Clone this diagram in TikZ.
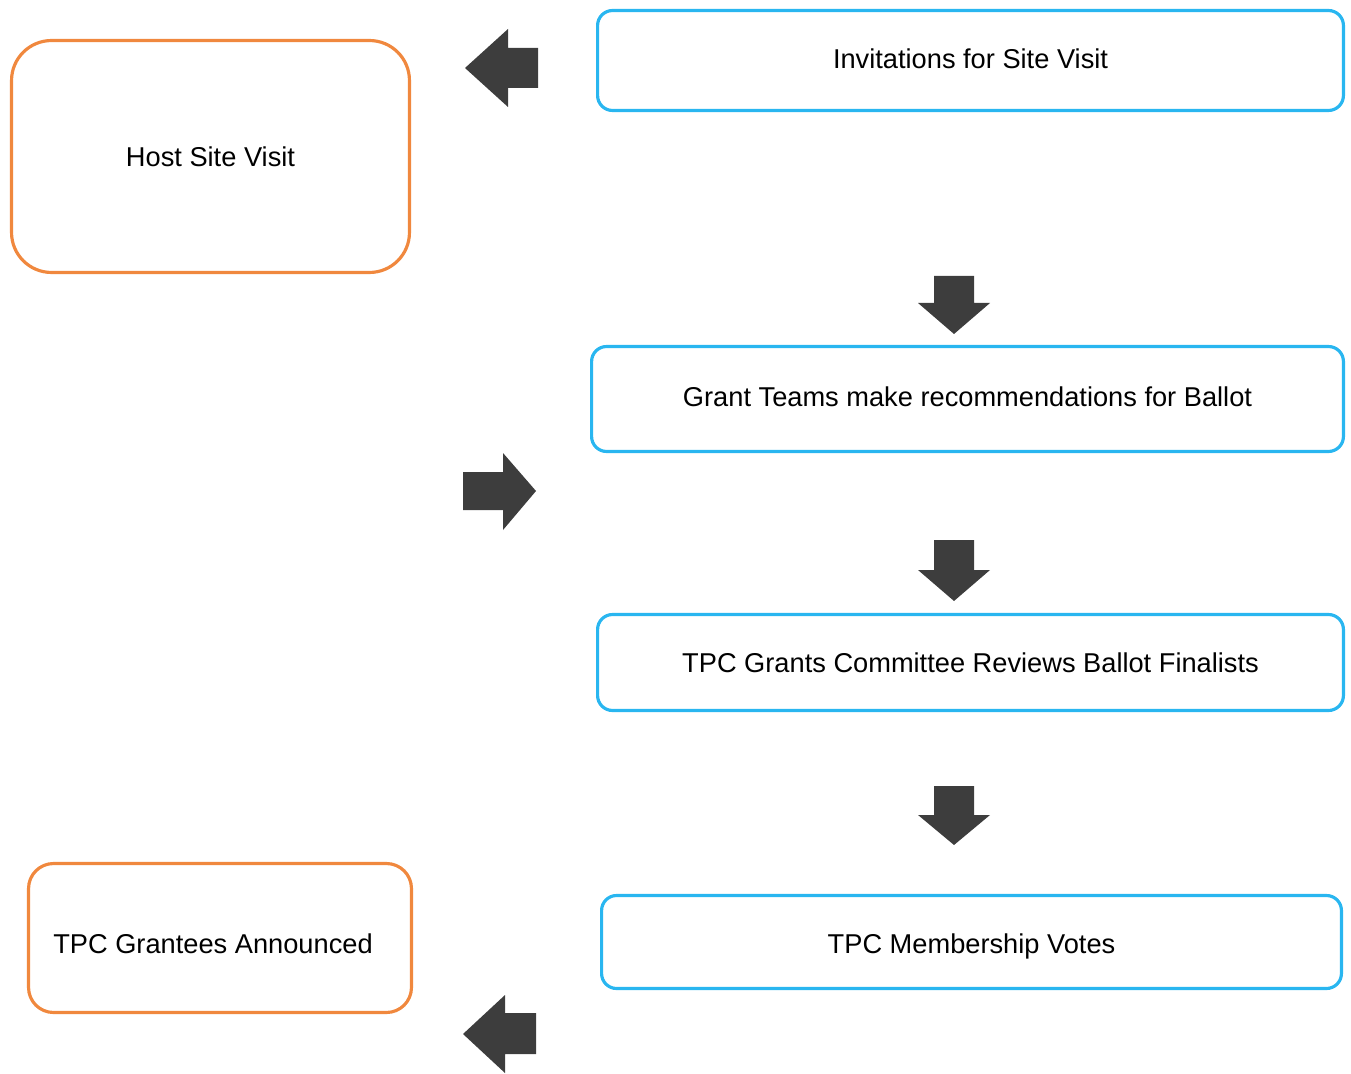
\documentclass[tikz,border=0pt]{standalone}
\usepackage{fontspec}
\setmainfont{Liberation Sans}
\usetikzlibrary{positioning}

\definecolor{stepblue}{HTML}{29B6F0}
\definecolor{hostorange}{HTML}{F0883E}
\definecolor{arrowgray}{HTML}{3D3D3D}

\newcommand{\nudge}[2]{\raisebox{#1}[\height][\depth]{#2}}

\begin{document}
\begin{tikzpicture}[x=0.02cm, y=-0.02cm,
    line width = 1.8pt,
    bluebox/.style = {
      draw = stepblue,
      rounded corners = 0.3cm,
      font = \fontsize{15.5}{18}\selectfont,
      inner sep = 0pt
    },
    orangebox/.style = {
      draw = hostorange,
      font = \fontsize{15.5}{18}\selectfont,
      inner sep = 0pt
    },
    blockarrow/.style = {
      fill = arrowgray,
      draw = none
    }
  ]
  \useasboundingbox (0,0) rectangle (1351,1074);

  % steps on the right
  \node[bluebox, minimum width=14.92cm, minimum height=2.0cm]  (invite)    at (970.5,60.5) {\nudge{1pt}{Invitations for Site Visit}};
  \node[bluebox, minimum width=15.04cm, minimum height=2.1cm]  (grant)     at (967.5,399)  {\nudge{1.2pt}{Grant Teams make recommendations for Ballot}};
  \node[bluebox, minimum width=14.92cm, minimum height=1.92cm] (committee) at (970.5,662.5) {TPC Grants Committee Reviews Ballot Finalists};
  \node[bluebox, minimum width=14.8cm, minimum height=1.86cm]  (votes)     at (971.5,942)  {\nudge{-2.5pt}{TPC Membership Votes}};

  % outcomes on the left
  \node[orangebox, rounded corners=0.8cm, minimum width=7.96cm, minimum height=4.64cm] (host)      at (210.5,156.5) {Host Site Visit};
  \node[orangebox, rounded corners=0.5cm, minimum width=7.66cm, minimum height=2.98cm] (announced) at (220,938)    {};
  \node[font=\fontsize{15.5}{18}\selectfont] (announcedtext) at (213,944) {TPC Grantees Announced};

  % block arrows
  \fill[blockarrow] (465,68) -- (508,29) -- (508,48) -- (538,48) -- (538,88) -- (508,88) -- (508,107) -- cycle;
  \fill[blockarrow] (536,491) -- (503,453) -- (503,472) -- (463,472) -- (463,510) -- (503,510) -- (503,530) -- cycle;
  \fill[blockarrow] (463,1034) -- (505,995) -- (505,1013) -- (536,1013) -- (536,1054) -- (505,1054) -- (505,1073) -- cycle;
  \foreach \top/\base/\tip in {276/303/334, 540/570/601, 786/815/845}
    \fill[blockarrow] (934,\top) -- (974,\top) -- (974,\base) -- (990,\base) -- (954,\tip) -- (918,\base) -- (934,\base) -- cycle;
\end{tikzpicture}
\end{document}
